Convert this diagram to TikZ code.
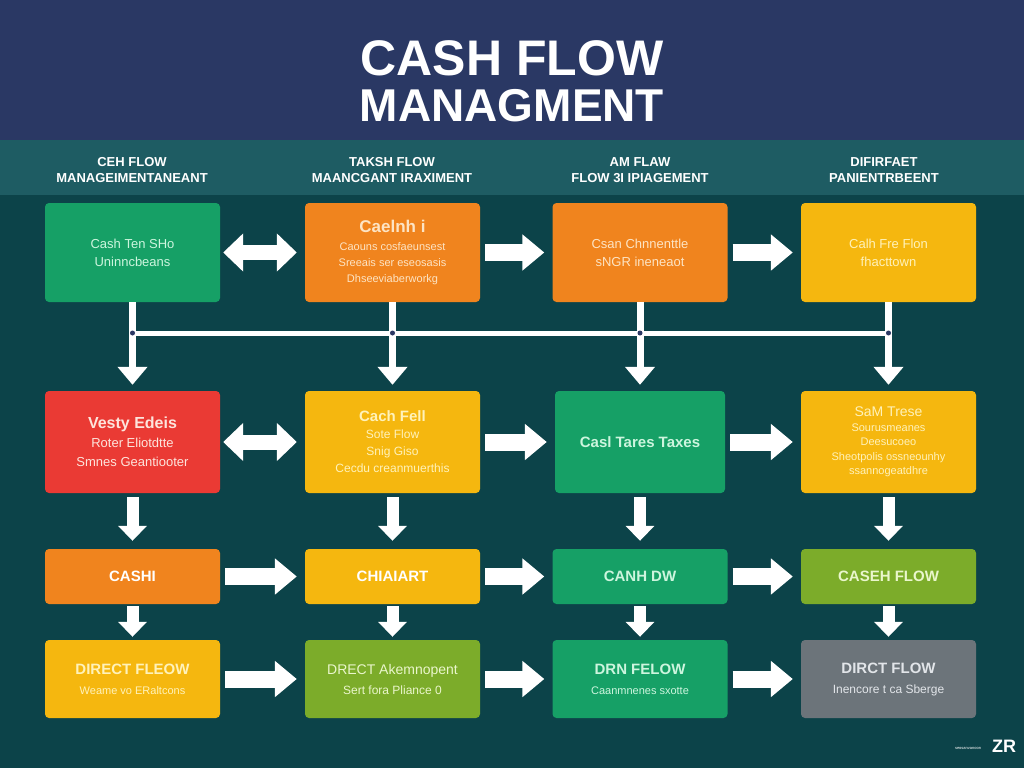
\documentclass[tikz,border=0pt]{standalone}
\usepackage{fontspec}
\setmainfont{Liberation Sans}
\usepackage{tikz}
\usetikzlibrary{arrows.meta}
\definecolor{cfNavy}{RGB}{42,56,100}
\definecolor{cfBand}{RGB}{30,92,99}
\definecolor{cfBack}{RGB}{12,67,73}
\definecolor{cfGreen}{RGB}{22,160,102}
\definecolor{cfOrange}{RGB}{240,132,30}
\definecolor{cfYellow}{RGB}{245,183,15}
\definecolor{cfRed}{RGB}{234,58,52}
\definecolor{cfLime}{RGB}{124,172,42}
\definecolor{cfGray}{RGB}{108,116,122}
\definecolor{cfGreenTxt}{RGB}{205,245,222}
\definecolor{cfOrangeTxt}{RGB}{253,228,196}
\definecolor{cfYellowTxt}{RGB}{255,242,186}
\definecolor{cfRedTxt}{RGB}{253,228,220}
\definecolor{cfLimeTxt}{RGB}{234,246,204}
\definecolor{cfGrayTxt}{RGB}{226,229,233}

\begin{document}
\begin{tikzpicture}[x=1pt, y=-1pt,
  box/.style={rectangle, rounded corners=4pt, minimum width=175pt, inner sep=0pt, align=center, font=\fontsize{13}{18}\selectfont},
  head/.style={white, align=center, font=\bfseries\fontsize{13}{16}\selectfont},
  flow/.style={white, line width=17pt, shorten <=5pt, shorten >=8pt, -{Triangle[length=22pt, width=35pt]}},
  twoway/.style={white, line width=15pt, shorten <=3pt, shorten >=8pt, {Triangle[length=20pt, width=37pt]}-{Triangle[length=20pt, width=37pt]}},
  drop/.style={white, line width=12pt, -{Triangle[length=15pt, width=28pt]}},
  bus/.style={white, line width=5pt},
  busdrop/.style={white, line width=7pt, shorten >=6pt, -{Triangle[length=18pt, width=29pt]}}]
  \useasboundingbox (0,0) rectangle (1024,768);
  \fill[cfBack] (0,0) rectangle (1024,768);
  \fill[cfNavy] (0,0) rectangle (1024,140);
  \fill[cfBand] (0,140) rectangle (1024,195);
  % title
  \node[white, font=\bfseries\fontsize{50}{50}\selectfont] (title1) at (512,58) {CASH FLOW};
  \node[white, font=\bfseries\fontsize{46}{46}\selectfont] (title2) at (512,106) {MANAGMENT};
  % column heads
  \node[head] (head1) at (132,170) {CEH FLOW\\MANAGEIMENTANEANT};
  \node[head] (head2) at (392,170) {TAKSH FLOW\\MAANCGANT IRAXIMENT};
  \node[head] (head3) at (640,170) {AM FLAW\\FLOW 3I IPIAGEMENT};
  \node[head] (head4) at (884,170) {DIFIRFAET\\PANIENTRBEENT};
  % row 1
  \node[box, fill=cfGreen, text=cfGreenTxt, minimum height=99pt] (cash11) at (132.5,252.5) {Cash Ten SHo\\Uninncbeans};
  \node[box, fill=cfOrange, text=cfOrangeTxt, minimum height=99pt, font=\fontsize{11}{16}\selectfont] (cash12) at (392.5,252.5) {{\bfseries\fontsize{17}{17}\selectfont Caelnh i}\\[2pt]Caouns cosfaeunsest\\Sreeais ser eseosasis\\Dhseeviaberworkg};
  \node[box, fill=cfOrange, text=cfOrangeTxt, minimum height=99pt] (cash13) at (640,252.5) {Csan Chnnenttle\\sNGR ineneaot};
  \node[box, fill=cfYellow, text=cfYellowTxt, minimum height=99pt] (cash14) at (888.5,252.5) {Calh Fre Flon\\fhacttown};
  % row 2
  \node[box, fill=cfRed, text=cfRedTxt, minimum height=102pt, font=\fontsize{13}{19}\selectfont] (cash21) at (132.5,442) {{\bfseries\fontsize{16}{16}\selectfont Vesty Edeis}\\Roter Eliotdtte\\Smnes Geantiooter};
  \node[box, fill=cfYellow, text=cfYellowTxt, minimum height=102pt, font=\fontsize{12}{17}\selectfont] (cash22) at (392.5,442) {{\bfseries\fontsize{15}{15}\selectfont Cach Fell}\\Sote Flow\\Snig Giso\\Cecdu creanmuerthis};
  \node[box, fill=cfGreen, text=cfGreenTxt, minimum height=102pt, minimum width=170pt] (cash23) at (640,442) {\bfseries\fontsize{15}{15}\selectfont Casl Tares Taxes};
  \node[box, fill=cfYellow, text=cfYellowTxt, minimum height=102pt, font=\fontsize{11}{14.5}\selectfont] (cash24) at (888.5,442) {{\fontsize{14}{14}\selectfont SaM Trese}\\Sourusmeanes\\Deesucoeo\\Sheotpolis ossneounhy\\ssannogeatdhre};
  % row 3
  \node[box, fill=cfOrange, text=white, minimum height=55pt, font=\bfseries\fontsize{15}{15}\selectfont] (cash31) at (132.5,576.5) {CASHI};
  \node[box, fill=cfYellow, text=white, minimum height=55pt, font=\bfseries\fontsize{15}{15}\selectfont] (cash32) at (392.5,576.5) {CHIAIART};
  \node[box, fill=cfGreen, text=cfGreenTxt, minimum height=55pt, font=\bfseries\fontsize{15}{15}\selectfont] (cash33) at (640,576.5) {CANH DW};
  \node[box, fill=cfLime, text=cfLimeTxt, minimum height=55pt, font=\bfseries\fontsize{15}{15}\selectfont] (cash34) at (888.5,576.5) {CASEH FLOW};
  % row 4
  \node[box, fill=cfYellow, text=cfYellowTxt, minimum height=78pt, font=\fontsize{11}{20}\selectfont] (cash41) at (132.5,679) {{\bfseries\fontsize{15}{15}\selectfont DIRECT FLEOW}\\Weame vo ERaltcons};
  \node[box, fill=cfLime, text=cfLimeTxt, minimum height=78pt, font=\fontsize{12}{20}\selectfont] (cash42) at (392.5,679) {{\fontsize{14}{14}\selectfont DRECT Akemnopent}\\Sert fora Pliance 0};
  \node[box, fill=cfGreen, text=cfGreenTxt, minimum height=78pt, font=\fontsize{11}{20}\selectfont] (cash43) at (640,679) {{\bfseries\fontsize{15}{15}\selectfont DRN FELOW}\\Caanmnenes sxotte};
  \node[box, fill=cfGray, text=cfGrayTxt, minimum height=78pt, font=\fontsize{12}{20}\selectfont] (cash44) at (888.5,679) {{\bfseries\fontsize{15}{15}\selectfont DIRCT FLOW}\\Inencore t ca Sberge};
  % bus under row 1
  \coordinate (join1) at (132.5,333);
  \coordinate (join4) at (888.5,333);
  \draw[bus] (join1) -- (join4);
  \draw[busdrop] (cash11) -- (cash21);
  \draw[busdrop] (cash12) -- (cash22);
  \draw[busdrop] (cash13) -- (cash23);
  \draw[busdrop] (cash14) -- (cash24);
  \foreach \jx in {132.5,392.5,640,888.5}
    \fill[cfNavy] (\jx,333) circle (2.5pt);
  % row arrows
  \draw[twoway] (cash11) -- (cash12);
  \draw[flow] (cash12) -- (cash13);
  \draw[flow] (cash13) -- (cash14);
  \draw[twoway] (cash21) -- (cash22);
  \draw[flow] (cash22) -- (cash23);
  \draw[flow] (cash23) -- (cash24);
  \draw[flow] (cash31) -- (cash32);
  \draw[flow] (cash32) -- (cash33);
  \draw[flow] (cash33) -- (cash34);
  \draw[flow] (cash41) -- (cash42);
  \draw[flow] (cash42) -- (cash43);
  \draw[flow] (cash43) -- (cash44);
  % column arrows
  \draw[drop, shorten <=4pt, shorten >=8pt] (cash21) -- (cash31);
  \draw[drop, shorten <=4pt, shorten >=8pt] (cash22) -- (cash32);
  \draw[drop, shorten <=4pt, shorten >=8pt] (cash23) -- (cash33);
  \draw[drop, shorten <=4pt, shorten >=8pt] (cash24) -- (cash34);
  \draw[drop, shorten <=2pt, shorten >=3pt] (cash31) -- (cash41);
  \draw[drop, shorten <=2pt, shorten >=3pt] (cash32) -- (cash42);
  \draw[drop, shorten <=2pt, shorten >=3pt] (cash33) -- (cash43);
  \draw[drop, shorten <=2pt, shorten >=3pt] (cash34) -- (cash44);
  % corner mark
  \node[white, font=\bfseries\fontsize{18}{18}\selectfont] (logo) at (1004,746) {ZR};
  \node[white, font=\fontsize{4}{4}\selectfont] (tag) at (968,748) {seosanvanoon};
\end{tikzpicture}
\end{document}
